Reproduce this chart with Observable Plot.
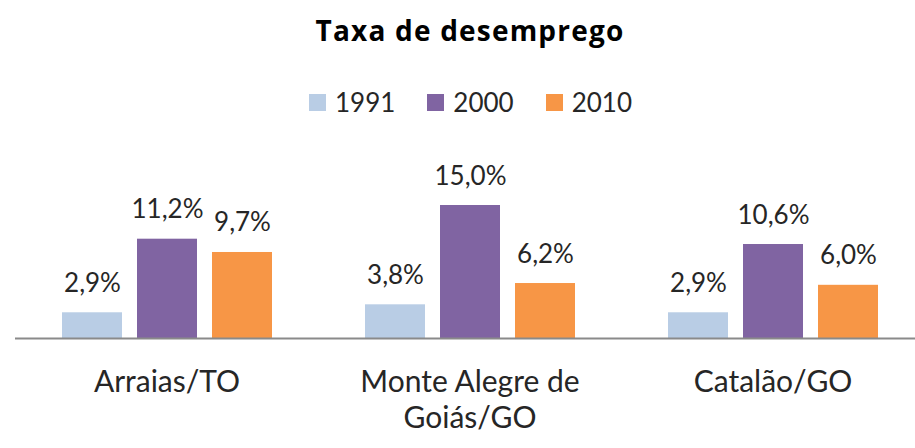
<!DOCTYPE html>
<html><head><meta charset="utf-8">
<script src="https://cdn.jsdelivr.net/npm/d3@7"></script>
<script src="https://cdn.jsdelivr.net/npm/@observablehq/plot@0.6"></script>
<style>
body{margin:0;background:#fff;}
#chart{position:relative;width:915px;height:448px;overflow:hidden;background:#fff;font-family:Lato,sans-serif;color:#262626;}
#title{position:absolute;left:25px;right:0;top:16px;text-align:center;font:bold 28px/28px "Open Sans",sans-serif;color:#000;letter-spacing:1.2px;}
#legend{position:absolute;left:26px;right:0;top:86px;}
.leg-swatches-wrap{justify-content:center !important;font-family:Lato,sans-serif !important;font-size:26px !important;color:#262626 !important;min-height:0 !important;}
.leg-swatch{margin-right:32px !important;}
.leg-swatch:last-child{margin-right:0 !important;}
.leg-swatch svg{margin-right:9px !important;}
#plot{position:absolute;left:0;top:130px;}
</style>
</head><body>
<div id="chart">
  <div id="title">Taxa de desemprego</div>
  <div id="legend"></div>
  <div id="plot"></div>
</div>
<script>
const cities = ["Arraias/TO", "Monte Alegre de Goiás/GO", "Catalão/GO"];
const tickLabels = ["Arraias/TO", "Monte Alegre de\nGoiás/GO", "Catalão/GO"];
const years = ["1991", "2000", "2010"];
const colors = ["#B9CDE5", "#8064A2", "#F79646"];
const values1991 = [2.9, 3.8, 2.9];
const values2000 = [11.2, 15.0, 10.6];
const values2010 = [9.7, 6.2, 6.0];

const series = [values1991, values2000, values2010];
const data = [];
cities.forEach((c, i) => years.forEach((y, j) => data.push({city: c, year: y, value: series[j][i]})));

const fmt = v => d3.format(".1f")(v).replace(".", ",") + "%";

const plot = Plot.plot({
  width: 915,
  height: 318,
  marginTop: 75,
  marginBottom: 110,
  marginLeft: 14,
  marginRight: -10,
  style: {fontFamily: "Lato, sans-serif", background: "transparent", color: "#262626"},
  fx: {domain: cities, paddingInner: 0, paddingOuter: 0, label: null},
  x: {domain: years, paddingInner: 0.2, paddingOuter: 0.6, axis: null},
  y: {domain: [0, 15], axis: null},
  color: {domain: years, range: colors},
  marks: [
    Plot.barY(data, {fx: "city", x: "year", y: "value", fill: "year"}),
    Plot.text(data, {fx: "city", x: "year", y: "value", text: d => fmt(d.value), dy: -21, lineAnchor: "bottom", fontSize: 26, fill: "#262626"}),
    Plot.ruleY([0], {stroke: "#8a8a8a", strokeWidth: 2}),
    Plot.axisFx({anchor: "bottom", tickSize: 0, tickPadding: 29, fontSize: 30, lineHeight: 1.17, label: null,
      tickFormat: c => tickLabels[cities.indexOf(c)]})
  ]
});
document.getElementById("plot").append(plot);

const legend = Plot.legend({
  color: {domain: years, range: colors},
  legend: "swatches",
  swatchSize: 17,
  className: "leg"
});
document.getElementById("legend").append(legend);
</script>
</body></html>
